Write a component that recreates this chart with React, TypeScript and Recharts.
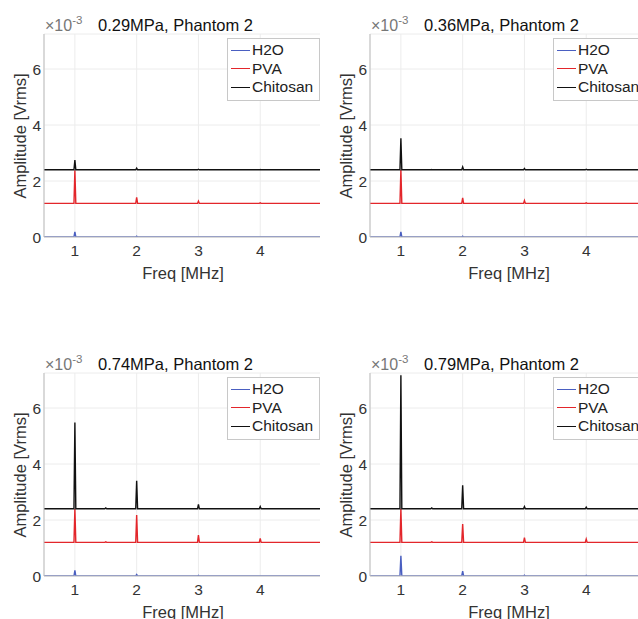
import React from "react";
import { LineChart, Line, XAxis, YAxis, CartesianGrid, Legend } from "recharts";

// frequency sample points (MHz): baseline, then a narrow spike at each harmonic
const freq = [0.5, 0.985, 1, 1.015, 1.485, 1.5, 1.515, 1.985, 2, 2.015, 2.985, 3, 3.015, 3.985, 4, 4.015, 5];

const xTicks = [1, 2, 3, 4];
const yTicks = [0, 2, 4, 6];
const seriesNames = ["H2O", "PVA", "Chitosan"];

// amplitudes in units of 1e-3 Vrms (PVA and Chitosan are offset in the figure)
const h2o029 = [0, 0, 0.18, 0, 0, 0, 0, 0, 0.03, 0, 0, 0, 0, 0, 0, 0, 0];
const pva029 = [1.2, 1.2, 2.38, 1.2, 1.2, 1.2, 1.2, 1.2, 1.42, 1.2, 1.2, 1.28, 1.2, 1.2, 1.22, 1.2, 1.2];
const chi029 = [2.4, 2.4, 2.75, 2.4, 2.4, 2.4, 2.4, 2.4, 2.46, 2.4, 2.4, 2.42, 2.4, 2.4, 2.41, 2.4, 2.4];

const h2o036 = [0, 0, 0.18, 0, 0, 0, 0, 0, 0.03, 0, 0, 0, 0, 0, 0, 0, 0];
const pva036 = [1.2, 1.2, 2.4, 1.2, 1.2, 1.2, 1.2, 1.2, 1.4, 1.2, 1.2, 1.3, 1.2, 1.2, 1.22, 1.2, 1.2];
const chi036 = [2.4, 2.4, 3.53, 2.4, 2.4, 2.41, 2.4, 2.4, 2.5, 2.4, 2.4, 2.45, 2.4, 2.4, 2.42, 2.4, 2.4];

const h2o074 = [0, 0, 0.2, 0, 0, 0, 0, 0, 0.05, 0, 0, 0.02, 0, 0, 0, 0, 0];
const pva074 = [1.2, 1.2, 2.4, 1.2, 1.2, 1.22, 1.2, 1.2, 2.18, 1.2, 1.2, 1.46, 1.2, 1.2, 1.34, 1.2, 1.2];
const chi074 = [2.4, 2.4, 5.48, 2.4, 2.4, 2.43, 2.4, 2.4, 3.4, 2.4, 2.4, 2.56, 2.4, 2.4, 2.48, 2.4, 2.4];

const h2o079 = [0, 0, 0.72, 0, 0, 0, 0, 0, 0.17, 0, 0, 0.03, 0, 0, 0.02, 0, 0];
const pva079 = [1.2, 1.2, 2.4, 1.2, 1.2, 1.22, 1.2, 1.2, 1.86, 1.2, 1.2, 1.37, 1.2, 1.2, 1.32, 1.2, 1.2];
const chi079 = [2.4, 2.4, 7.17, 2.4, 2.4, 2.43, 2.4, 2.4, 3.24, 2.4, 2.4, 2.48, 2.4, 2.4, 2.46, 2.4, 2.4];

const FONT = "'Liberation Sans', Arial, Helvetica, sans-serif";
const BLUE = "#4a5fc1";
const RED = "#e3262b";
const BLACK = "#111111";

const buildRows = (h: number[], p: number[], c: number[]) =>
  freq.map((f, i) => ({ f, h2o: h[i], pva: p[i], chi: c[i] }));

const renderLegend = (props: any) => {
  const payload = [...(props.payload || [])].sort(
    (a: any, b: any) => seriesNames.indexOf(a.value) - seriesNames.indexOf(b.value)
  );
  return (
    <div
      style={{
        border: "1px solid #c8c8c8",
        background: "#fff",
        padding: "2px 6px 3px 3px",
        fontFamily: FONT,
        fontSize: 15.5,
        color: "#222",
        lineHeight: "18.5px",
        whiteSpace: "nowrap",
      }}
    >
      {payload.map((entry: any) => (
        <div key={entry.value} style={{ display: "flex", alignItems: "center" }}>
          <span
            style={{
              display: "inline-block",
              width: 19,
              height: 0,
              borderTop: `1.5px solid ${entry.color}`,
              marginRight: 2,
            }}
          />
          {entry.value}
        </div>
      ))}
    </div>
  );
};

type PanelProps = {
  title: string;
  h: number[];
  p: number[];
  c: number[];
  left: number;
  top: number;
  plotLeft: number;
  clipH: number;
};

function Panel({ title, h, p, c, left, top, plotLeft, clipH }: PanelProps) {
  const rows = buildRows(h, p, c);
  const plotTop = 34;
  const plotBottom = 237;
  const plotW = 278;
  const chartW = plotLeft + plotW + 10;
  const chartH = 300;
  const xAxisH = 30;
  const labelStyle: React.CSSProperties = {
    position: "absolute",
    fontFamily: FONT,
    fontSize: 16.5,
    color: "#333",
    whiteSpace: "nowrap",
  };
  return (
    <div
      style={{
        position: "absolute",
        left,
        top,
        width: 320,
        height: clipH,
        overflow: "hidden",
      }}
    >
      <LineChart
        width={chartW}
        height={chartH}
        data={rows}
        margin={{ top: plotTop, right: chartW - plotLeft - plotW, bottom: chartH - plotBottom - xAxisH, left: 0 }}
      >
        <CartesianGrid stroke="#ececec" strokeWidth={1} />
        <XAxis
          dataKey="f"
          type="number"
          domain={[0.5, 5]}
          ticks={xTicks}
          allowDataOverflow
          height={xAxisH}
          tickLine={false}
          tickSize={0}
          tickMargin={8}
          axisLine={{ stroke: "#bdbdbd" }}
          tick={{ fill: "#333", fontSize: 15.5, fontFamily: FONT }}
        />
        <XAxis
          xAxisId="top"
          orientation="top"
          dataKey="f"
          type="number"
          domain={[0.5, 5]}
          height={0}
          tick={false}
          tickLine={false}
          axisLine={{ stroke: "#cfcfcf" }}
        />
        <YAxis
          type="number"
          domain={[0, 7.25]}
          ticks={yTicks}
          allowDataOverflow
          width={plotLeft}
          tickLine={false}
          tickSize={0}
          tickMargin={3}
          axisLine={{ stroke: "#bdbdbd" }}
          tick={{ fill: "#333", fontSize: 15.5, fontFamily: FONT }}
        />
        <Legend
          layout="horizontal"
          verticalAlign="middle"
          align="center"
          content={renderLegend}
          wrapperStyle={{ left: plotLeft + 183, top: plotTop + 4, width: "auto", height: "auto" }}
        />
        <Line dataKey="h2o" name="H2O" stroke={BLUE} strokeWidth={1.4} dot={false} isAnimationActive={false} />
        <Line dataKey="pva" name="PVA" stroke={RED} strokeWidth={1.4} dot={false} isAnimationActive={false} />
        <Line dataKey="chi" name="Chitosan" stroke={BLACK} strokeWidth={1.4} dot={false} isAnimationActive={false} />
      </LineChart>
      <div style={{ ...labelStyle, left: plotLeft + 1, top: 15, fontSize: 16, color: "#777" }}>
        ×10<sup style={{ fontSize: 11.5, position: "relative", top: -1 }}>-3</sup>
      </div>
      <div style={{ ...labelStyle, left: plotLeft + 54, top: 16, fontSize: 16.5, color: "#111" }}>{title}</div>
      <div
        style={{
          ...labelStyle,
          left: plotLeft - 24,
          top: (plotTop + plotBottom) / 2,
          transform: "translate(-50%, -50%) rotate(-90deg)",
        }}
      >
        Amplitude [Vrms]
      </div>
      <div
        style={{
          ...labelStyle,
          left: plotLeft + 139,
          top: 273,
          transform: "translate(-50%, -50%)",
        }}
      >
        Freq [MHz]
      </div>
    </div>
  );
}

export default function App() {
  return (
    <div
      style={{
        position: "absolute",
        left: 0,
        top: 0,
        width: 638,
        height: 619,
        overflow: "hidden",
        background: "#fff",
      }}
    >
      <Panel title="0.29MPa, Phantom 2" h={h2o029} p={pva029} c={chi029} left={0} top={0} plotLeft={44} clipH={300} />
      <Panel title="0.36MPa, Phantom 2" h={h2o036} p={pva036} c={chi036} left={318} top={0} plotLeft={52} clipH={300} />
      <Panel title="0.74MPa, Phantom 2" h={h2o074} p={pva074} c={chi074} left={0} top={339} plotLeft={44} clipH={280} />
      <Panel title="0.79MPa, Phantom 2" h={h2o079} p={pva079} c={chi079} left={318} top={339} plotLeft={52} clipH={280} />
    </div>
  );
}
